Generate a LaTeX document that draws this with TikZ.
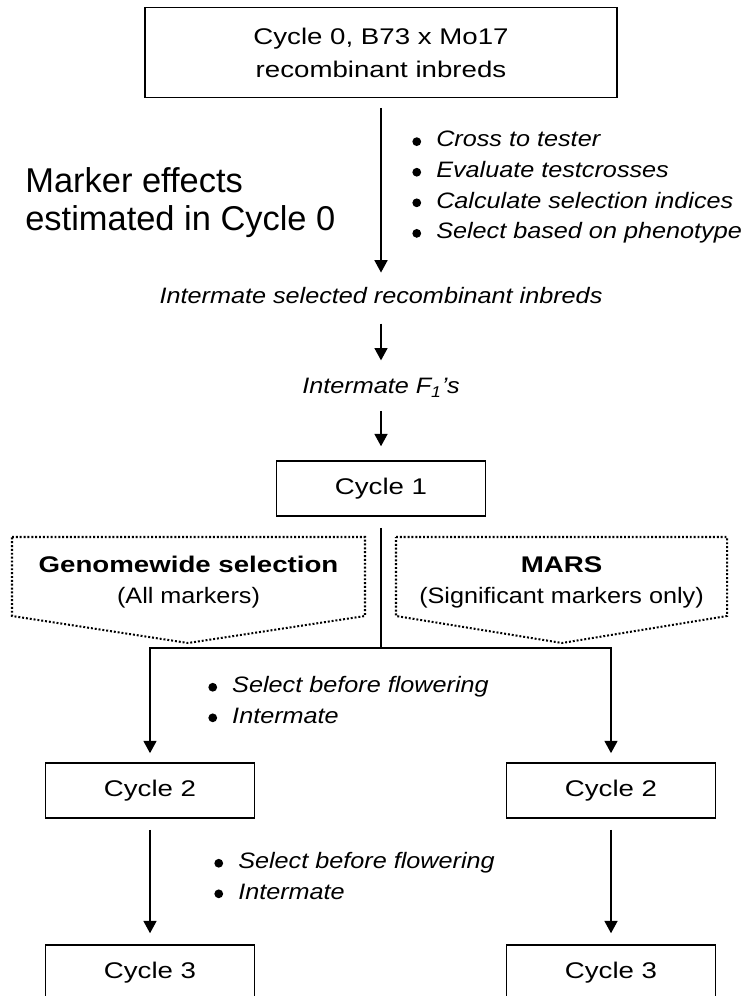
\documentclass[tikz,border=0pt]{standalone}
\usepackage{fontspec}
\setmainfont{Liberation Sans}
\newfontfamily\boxfamily[FakeStretch=1.22]{Liberation Sans}
\newfontfamily\notefamily[FakeStretch=1.13]{Liberation Sans}
\usetikzlibrary{arrows.meta}

\newcommand\boxfont{\boxfamily\fontsize{12.9pt}{18.7pt}\selectfont}
\newcommand\notefont{\notefamily\fontsize{12.7pt}{17.4pt}\selectfont}
\newcommand\sidefont{\fontsize{19.6pt}{21.5pt}\selectfont}
\newcommand\bul{\tikz[baseline=-3pt]\fill (0,0) circle (2.5pt);\hspace{8.6pt}}

\begin{document}
\begin{tikzpicture}[x=0.02cm, y=-0.02cm,
    cyclebox/.style={rectangle, draw, line width=1pt, minimum width=4.18cm, minimum height=1.1cm, font=\boxfont, inner sep=0pt},
    note/.style={inner sep=0pt, font=\notefont\itshape, align=left},
    arrow/.style={-{Triangle[width=7.4pt,length=7pt]}, line width=0.8pt},
    line/.style={line width=0.8pt},
    dotline/.style={line width=1.15pt, dash pattern=on 1.1pt off 1.1pt}]
  \useasboundingbox (0,0) rectangle (749,996);
  \clip (0,0) rectangle (749,996);

  \node (cycle0) [cyclebox, minimum width=9.44cm, minimum height=1.8cm, align=center] at (381, 52.5) {Cycle 0, B73 x Mo17\\recombinant inbreds};
  \node (effects) [anchor=north west, inner sep=0pt, font=\sidefont, align=left] at (25, 167) {Marker effects\\estimated in Cycle 0};
  \node (tasks0) [note, anchor=north west] at (412, 131) {\bul Cross to tester\\\bul Evaluate testcrosses\\\bul Calculate selection indices\\\bul Select based on phenotype};
  \node (inter) [note, anchor=base] at (381, 304) {Intermate selected recombinant inbreds};
  \node (f1) [note, anchor=base] at (381, 394) {Intermate F\textsubscript{1}’s};
  \node (cycle1) [cyclebox] at (381, 488.5) {Cycle 1};
  \coordinate (split) at (381, 648);

  % the two selection schemes
  \node (gws) [inner sep=0pt, font=\notefont, align=center, anchor=north] at (188.5, 556) {{\boxfont\bfseries Genomewide selection}\\[0.3pt](All markers)};
  \node (mars) [inner sep=0pt, font=\notefont, align=center, anchor=north] at (561.5, 556) {{\boxfont\bfseries MARS}\\[0.3pt](Significant markers only)};
  \draw[dotline] (12,537) -- (365,537) -- (365,616) -- (188,643) -- (12,616) -- cycle;
  \draw[dotline] (396,537) -- (727,537) -- (727,616) -- (562,643) -- (396,616) -- cycle;

  \node (cycle2l) [cyclebox] at (150, 790.5) {Cycle 2};
  \node (cycle2r) [cyclebox] at (611, 790.5) {Cycle 2};
  \node (cycle3l) [cyclebox] at (150, 972.5) {Cycle 3};
  \node (cycle3r) [cyclebox] at (611, 972.5) {Cycle 3};
  \node (tasks1) [note, anchor=north west] at (208, 676) {\bul Select before flowering\\\bul Intermate};
  \node (tasks2) [note, anchor=north west] at (214, 852) {\bul Select before flowering\\\bul Intermate};

  \draw[arrow, shorten <=5.4pt, shorten >=8.5pt] (cycle0) -- (inter);
  \draw[arrow, shorten <=10.8pt, shorten >=10.2pt] (inter) -- (f1);
  \draw[arrow, shorten <=7.4pt, shorten >=7.9pt] (f1) -- (cycle1);
  \draw[line, shorten <=6.2pt] (cycle1) -- (split);
  \draw[arrow, shorten >=5.1pt] (split) -| (cycle2l);
  \draw[arrow, shorten >=5.1pt] (split) -| (cycle2r);
  \draw[arrow, shorten <=6.2pt, shorten >=6.2pt] (cycle2l) -- (cycle3l);
  \draw[arrow, shorten <=6.2pt, shorten >=6.2pt] (cycle2r) -- (cycle3r);
\end{tikzpicture}
\end{document}
